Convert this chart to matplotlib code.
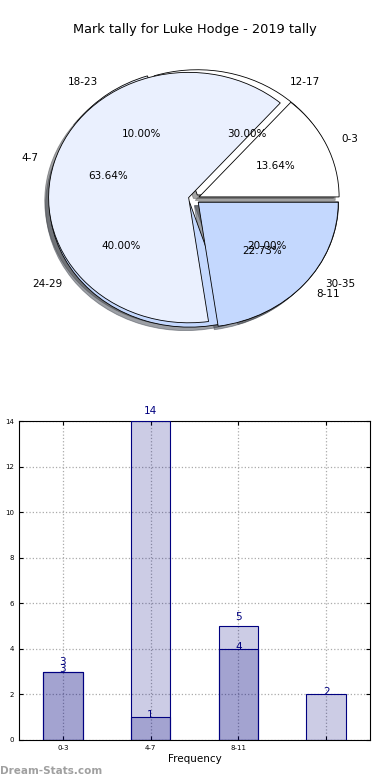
"""Mark tally chart: two overlaid pies and overlapping bars."""
import matplotlib
matplotlib.use("Agg")
import matplotlib.pyplot as plt

title = "Mark tally for Luke Hodge - 2019 tally"

# first tally (pie 1 / light bars)
labels_a = ["0-3", "4-7", "8-11"]
values_a = [3, 14, 5]
# second tally (pie 2 / overlapping bars)
labels_b = ["12-17", "18-23", "24-29", "30-35"]
values_b = [3, 1, 4, 2]

pie_colors = ["#ffffff", "#eaf0fe", "#c4d8fe"]
navy = "#000080"

fig = plt.figure(figsize=(3.9, 7.8), dpi=100)
fig.text(0.5, 1 - 30 / 780, title, ha="center", va="center", fontsize=9.3)

# Pie part (old style: no equal aspect, so it's a bit squashed)
ax1 = fig.add_axes([19 / 390, (780 - 355.5) / 780, 350 / 390, 313 / 780])
kw = dict(autopct="%1.2f%%", shadow=True, labeldistance=1.12, pctdistance=0.6,
          wedgeprops=dict(edgecolor="black", linewidth=0.6),
          textprops=dict(fontsize=7.5))
ax1.pie(values_b, labels=labels_b, explode=[0.04] * len(values_b),
        colors=pie_colors + pie_colors[:1], **kw)
ax1.pie(values_a, labels=labels_a, explode=[0.04] * len(values_a),
        colors=pie_colors, **kw)
ax1.set_aspect("auto")
ax1.set_xlim(-1.25, 1.25)
ax1.set_ylim(-1.25, 1.25)

# Bar part
ax2 = fig.add_axes([19 / 390, 40 / 780, 351 / 390, 319 / 780])
xa = list(range(len(values_a)))
xb = list(range(len(values_b)))
w = 0.45
ax2.bar(xa, values_a, w, color=navy, alpha=0.2, zorder=2)
ax2.bar(xa, values_a, w, facecolor="none", edgecolor=navy, linewidth=0.8, zorder=3)
ax2.bar(xb, values_b, w, color=navy, alpha=0.2, zorder=2)
ax2.bar(xb, values_b, w, facecolor="none", edgecolor=navy, linewidth=0.8, zorder=3)
for x, v in zip(xa, values_a):
    ax2.text(x, v + 0.2, str(v), ha="center", va="bottom", color=navy, fontsize=7.5)
for x, v in zip(xb, values_b):
    ax2.text(x, v + 0.1, str(v), ha="center", va="center", color=navy, fontsize=7.5)

ax2.set_xlim(-0.5, 3.5)
ax2.set_ylim(0, 14)
ax2.set_xticks(xb)
ax2.set_xticklabels(labels_a + [""])
ax2.set_yticks(range(0, 15, 2))
ax2.tick_params(direction="in", top=True, right=True, labelsize=5, length=3)
ax2.grid(True, linestyle=":", color="#aaaaaa", linewidth=0.9, zorder=0)
ax2.set_axisbelow(True)
ax2.set_xlabel("Frequency", fontsize=7.5, labelpad=2)
ax2.set_ylabel("Distinct Tally", fontsize=7.5, labelpad=2)
ax2.yaxis.set_label_coords(-0.075, 0.5)

fig.text(0.0, 1 - 771 / 780, "Dream-Stats.com", ha="left", va="center",
         fontsize=7.5, color="#a0a0a0", fontweight="bold")

fig.savefig("out.png", dpi=100)
